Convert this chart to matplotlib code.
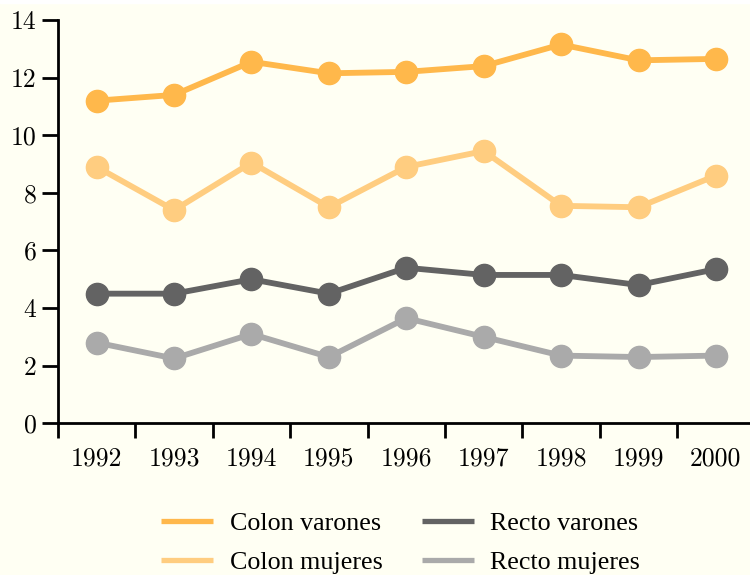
import matplotlib
matplotlib.use("Agg")
import matplotlib.pyplot as plt
from matplotlib.patches import Rectangle
from matplotlib.lines import Line2D

# data
years = ['1992', '1993', '1994', '1995', '1996', '1997', '1998', '1999', '2000']
colon_varones = [11.2, 11.4, 12.55, 12.15, 12.2, 12.4, 13.15, 12.6, 12.65]
colon_mujeres = [8.9, 7.4, 9.05, 7.5, 8.9, 9.45, 7.55, 7.5, 8.6]
recto_varones = [4.5, 4.5, 5.0, 4.5, 5.4, 5.15, 5.15, 4.8, 5.35]
recto_mujeres = [2.8, 2.25, 3.1, 2.3, 3.65, 3.0, 2.35, 2.3, 2.35]

series = [
    ('Colon varones', colon_varones, '#ffb84b'),
    ('Colon mujeres', colon_mujeres, '#ffcd80'),
    ('Recto varones', recto_varones, '#636363'),
    ('Recto mujeres', recto_mujeres, '#aaaaaa'),
]

bg = '#fffff3'
fig = plt.figure(figsize=(7.5, 5.75), dpi=100, facecolor=bg)
fig.patches.append(Rectangle((0, 1 - 3 / 575), 1, 3 / 575, color='white',
                             transform=fig.transFigure, zorder=-10))
ax = fig.add_axes([58 / 750, 1 - 423.3 / 575, 696.6 / 750, 403.3 / 575])
ax.set_facecolor(bg)

x = list(range(len(years)))
for label, vals, col in series:
    ax.plot(x, vals, color=col, lw=4.2, marker='o', ms=16,
            solid_capstyle='round', label=label, clip_on=False)

ax.set_xlim(-0.5, len(years) - 0.5)
ax.set_ylim(0, 14)
ax.set_yticks(range(0, 15, 2))
ax.set_xticks(x)
ax.set_xticklabels(years)
ax.set_xticks([i - 0.5 for i in range(len(years) + 1)], minor=True)

for s in ['top', 'right']:
    ax.spines[s].set_visible(False)
for s in ['left', 'bottom']:
    ax.spines[s].set_linewidth(2)

ax.tick_params(axis='x', which='major', length=0, pad=17)
ax.tick_params(axis='x', which='minor', length=11, width=2)
ax.tick_params(axis='y', length=11.5, width=2, pad=4)
for t in ax.get_xticklabels() + ax.get_yticklabels():
    t.set_fontfamily('cmr10')
    t.set_fontsize(18.5)

# legend: two columns under the plot
labels = [s[0] for s in series]
handles = [Line2D([], [], color=c, lw=3.8, solid_capstyle='butt')
           for _, _, c in series]
fig.legend(handles, labels, ncol=2, loc='center left',
           bbox_to_anchor=(161 / 750, 1 - 543 / 575), frameon=False,
           prop={'family': 'Liberation Serif', 'size': 18.7},
           handlelength=2.0, handletextpad=0.65, columnspacing=1.5,
           labelspacing=0.6, borderpad=0, borderaxespad=0)

fig.savefig('out.png', dpi=100, facecolor=bg)
